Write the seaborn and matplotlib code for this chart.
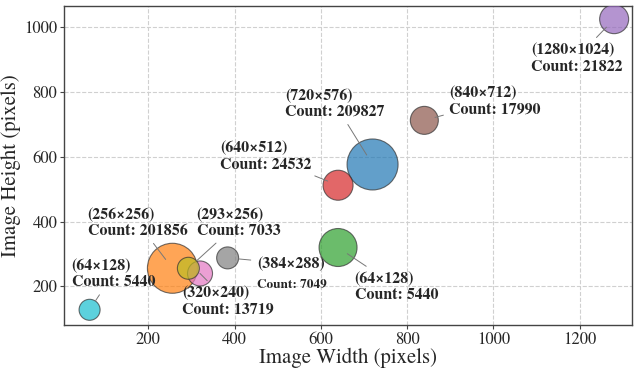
import pandas as pd
import matplotlib.pyplot as plt
import seaborn as sns

# resolutions, ordered like the tab10 colours in the picture
widths = [720, 256, 640, 640, 1280, 840, 320, 384, 293, 64]
heights = [576, 256, 320, 512, 1024, 712, 240, 288, 256, 128]
res_labels = ['(720×576)', '(256×256)', '(64×128)', '(640×512)', '(1280×1024)',
              '(840×712)', '(320×240)', '(384×288)', '(293×256)', '(64×128)']
count_labels = ['Count: 209827', 'Count: 201856', 'Count: 5440', 'Count: 24532', 'Count: 21822',
                'Count: 17990', 'Count: 13719', 'Count: 7049', 'Count: 7033', 'Count: 5440']

df = pd.DataFrame({'w': widths, 'h': heights, 'label': res_labels, 'count': count_labels})
df['key'] = range(len(df))

# bubble areas (pt^2) as drawn
bubble = [1348, 1296, 748, 467, 436, 406, 324, 250, 250, 229]
# label offsets from each bubble, in points
offsets = [(-63, 55), (-61, 44), (12, -17), (-85, 32), (-60, -17),
           (18, 25), (-13, -9), (21, 1), (6, 44), (-13, 37)]

sns.set_style('whitegrid', {'grid.linestyle': '--', 'grid.color': '#d0d0d0',
                            'axes.edgecolor': '#444444', 'xtick.bottom': True, 'ytick.left': True})
plt.rcParams['font.family'] = ['TeX Gyre Termes', 'Liberation Serif', 'FreeSerif', 'DejaVu Serif']

fig, ax = plt.subplots(figsize=(6.35, 3.69), dpi=100)
fig.subplots_adjust(left=0.101, right=0.995, top=0.985, bottom=0.12)

sns.scatterplot(data=df, x='w', y='h', hue='key', palette='tab10', size='key',
                sizes={i: s for i, s in enumerate(bubble)}, alpha=0.7,
                edgecolor='#333333', linewidth=0.8, legend=False, ax=ax, zorder=3)

for i, row in df.iterrows():
    dx, dy = offsets[i]
    small = row['label'] == '(384×288)'
    text = row['label'] if small else row['label'] + '\n' + row['count']
    ax.annotate(text, xy=(row['w'], row['h']), xytext=(dx, dy), textcoords='offset points',
                ha='left', va='top', fontsize=11.5, fontweight='bold',
                arrowprops=dict(arrowstyle='-', color='#777777', lw=0.7, shrinkA=2, shrinkB=8),
                zorder=4)
    if small:
        ax.annotate(row['count'], xy=(row['w'], row['h']), xytext=(dx, dy - 16),
                    textcoords='offset points', ha='left', va='top', fontsize=9.5,
                    fontweight='bold', zorder=4)

ax.set_xlim(5, 1321)
ax.set_ylim(82, 1066)
ax.set_xlabel('Image Width (pixels)', fontsize=15, labelpad=0)
ax.set_ylabel('Image Height (pixels)', fontsize=15, labelpad=2)
ax.tick_params(labelsize=12, length=3, pad=2, color='#444444')
for sp in ax.spines.values():
    sp.set_linewidth(1.0)

fig.savefig('out.png', dpi=100)
